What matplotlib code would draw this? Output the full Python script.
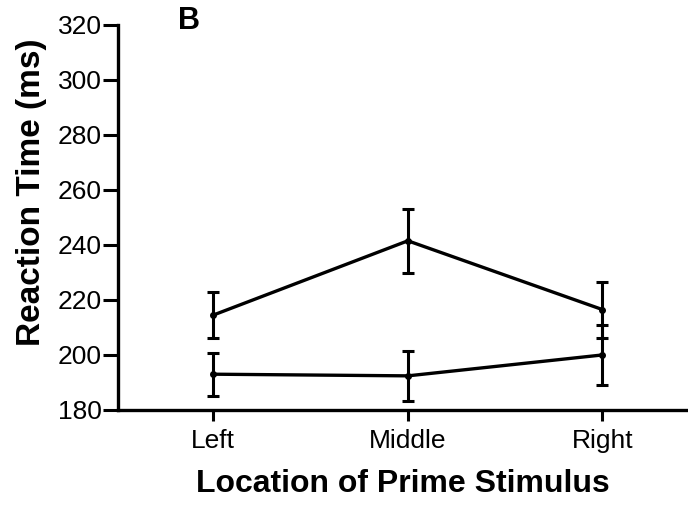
import matplotlib
matplotlib.use("Agg")
import matplotlib.pyplot as plt

plt.rcParams["font.family"] = ["Liberation Sans", "DejaVu Sans"]

locations = ["Left", "Middle", "Right"]
upper_rt = [214.5, 241.5, 216.5]
upper_err = [8.5, 11.7, 10.2]
lower_rt = [193.0, 192.4, 200.0]
lower_err = [7.8, 9.0, 10.8]

fig = plt.figure(figsize=(6.88, 5.08), dpi=100)
ax = fig.add_axes([0.1715, 0.193, 0.8285, 0.758])

xs = [1, 2, 3]
for ys, es in [(upper_rt, upper_err), (lower_rt, lower_err)]:
    ax.errorbar(xs, ys, yerr=es, color="black", linewidth=2.4, elinewidth=2.2,
                capsize=4.5, capthick=2.2, marker="o", markersize=4)

ax.set_xlim(0.51, 3.44)
ax.set_ylim(180, 320)
ax.set_yticks(range(180, 321, 20))
ax.set_xticks(xs)
ax.set_xticklabels(locations)

for side in ["top", "right"]:
    ax.spines[side].set_visible(False)
for side in ["left", "bottom"]:
    ax.spines[side].set_linewidth(2.4)
ax.tick_params(axis="both", direction="out", width=2.2, length=8, labelsize=19)
ax.tick_params(axis="y", pad=1, length=10.5)
ax.tick_params(axis="x", pad=6)

ax.set_xlabel("Location of Prime Stimulus", fontsize=23, fontweight="bold", labelpad=11)
ax.set_ylabel("Reaction Time (ms)", fontsize=24, fontweight="bold")
ax.yaxis.set_label_coords(-0.125, 0.566)

fig.text(0.258, 0.958, "B", fontsize=22, fontweight="bold", ha="left", va="center")

fig.savefig("out.png", dpi=100)
